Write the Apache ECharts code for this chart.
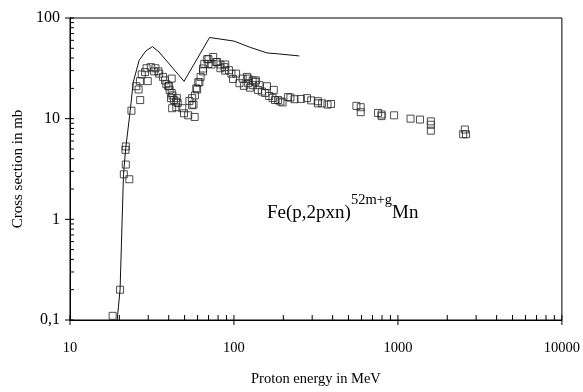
<!DOCTYPE html>
<html>
<head>
<meta charset="utf-8">
<script src="https://cdn.jsdelivr.net/npm/echarts@6/dist/echarts.min.js"></script>
<style>
html,body{margin:0;padding:0;background:#fff;}
#chart{width:583px;height:392px;}
</style>
</head>
<body>
<div id="chart"></div>
<script>
// Theory curve (solid line)
var theoryE  = [19.4, 20.2, 21.2, 21.9, 23.3, 24.3, 26.4, 29, 31.8, 34.9, 49.6, 71, 100, 126, 159, 187, 250];
var theoryXS = [0.1, 0.2, 2.8, 5.2, 12, 23, 38, 47, 52, 46, 23.5, 64, 59, 51, 45, 44, 42];

// Experimental points (open squares)
var expE = [18.2, 20.2, 21.3, 21.9, 23.0, 21.8, 21.9, 23.7,
  25.4, 26.2, 26.8, 26.7, 27.4, 28.7, 29.3, 29.8, 31.1, 32.6, 33.2, 34.6, 35.0, 36.9, 38, 38.7, 39.8, 40.1, 40.5, 41.7, 41.7, 41.3, 42.2, 43, 44.3, 44.8, 45.4, 42, 44.5,
  48.4, 49.6, 52.6, 57.6, 53.5, 55.5, 56.7, 55.6, 57.8, 58.9, 59.6, 60.6, 61.6, 62.6, 64.8, 64.8, 65.9, 68.7, 69.9, 69.9, 73, 74.7, 78, 79, 82.7, 82.7, 87.5, 88.5, 88.5, 93.2, 96.5, 98.6,
  103, 108, 113, 115, 120, 122, 122, 125, 130, 130, 135, 136, 140, 143, 148, 155, 159, 164, 172, 175, 178, 186, 192, 198,
  214, 221, 234, 256, 279, 296, 325, 325, 345, 372, 391,
  558, 593, 593, 757, 795, 795, 948, 1194, 1363, 1588, 1588, 1588, 2560, 2500, 2600];
var expXS = [0.11, 0.2, 2.8, 3.5, 2.5, 4.9, 5.3, 12,
  21, 19.5, 15.3, 23.6, 27.5, 29, 31.7, 23.6, 32.5, 29.5, 31.7, 29.5, 28, 26, 24, 22, 21, 21.2, 19.3, 25, 18, 16, 17, 15.3, 14.8, 16, 14.3, 12.7, 13,
  12.7, 11.3, 10.8, 10.4, 15, 13.6, 13.8, 16, 17, 20, 19.5, 23, 23, 26, 29.5, 31.5, 35, 39, 39, 35, 34.5, 41, 36.5, 36.5, 34.5, 31.7, 32.5, 34.5, 30, 30.3, 28, 24.8,
  28, 22.5, 25, 21.2, 26, 25, 22.5, 20.3, 21.5, 24, 23.2, 24, 19.3, 21.5, 18.6, 18, 21, 16.8, 16, 19.3, 15.3, 15.3, 14.8, 14.5,
  16.4, 16.2, 15.6, 15.7, 16, 15.2, 14.9, 14.2, 14.2, 13.8, 14,
  13.4, 13, 11.6, 11.4, 11, 10.6, 10.8, 10, 9.8, 9.4, 8.7, 7.6, 7.8, 7.0, 7.0];

// Axis ticks / labels
var xTickValues = [10, 100, 1000, 10000];
var xTickLabels = ['10', '100', '1000', '10000'];
var yTickValues = [0.1, 1, 10, 100];
var yTickLabels = ['0,1', '1', '10', '100'];

var FONT = '"Liberation Serif", "Times New Roman", serif';

function zip(a, b) { return a.map(function (v, i) { return [v, b[i]]; }); }
function labelFor(values, labels) {
  return function (v) {
    for (var i = 0; i < values.length; i++) {
      if (Math.abs(Math.log10(v) - Math.log10(values[i])) < 1e-6) return labels[i];
    }
    return '';
  };
}
function isMajor(v) { var l = Math.log10(v); return Math.abs(l - Math.round(l)) < 1e-6; }

// tick positions (majors and 2..9 minors per decade)
function decadeTicks(lo, hi) {
  var out = [];
  for (var d = lo; d < hi; d *= 10) {
    for (var m = 1; m < 10; m++) out.push(d * m);
  }
  out.push(hi);
  return out;
}
var xTicks = decadeTicks(10, 10000);
var yTicks = decadeTicks(0.1, 100);

var chart = echarts.init(document.getElementById('chart'), null, {renderer: 'canvas'});

chart.setOption({
  animation: false,
  backgroundColor: '#fff',
  textStyle: {fontFamily: FONT},
  grid: {left: 70, right: 19, top: 18, bottom: 68, show: true, borderColor: '#000', borderWidth: 1, backgroundColor: 'transparent'},
  xAxis: {
    type: 'log', logBase: 10, min: 10, max: 10000,
    name: 'Proton energy in MeV', nameLocation: 'middle', nameGap: 52,
    nameTextStyle: {fontFamily: FONT, fontSize: 14.5, color: '#000'},
    axisLine: {lineStyle: {color: '#000', width: 1}},
    axisTick: {show: false},
    splitLine: {show: false},
    axisLabel: {fontFamily: FONT, fontSize: 14.5, color: '#000', margin: 21, formatter: labelFor(xTickValues, xTickLabels)}
  },
  yAxis: {
    type: 'log', logBase: 10, min: 0.1, max: 100,
    name: 'Cross section in mb', nameLocation: 'middle', nameGap: 42,
    nameTextStyle: {fontFamily: FONT, fontSize: 15, color: '#000'},
    axisLine: {lineStyle: {color: '#000', width: 1}},
    axisTick: {show: false},
    splitLine: {show: false},
    axisLabel: {fontFamily: FONT, fontSize: 16, color: '#000', margin: 10, formatter: labelFor(yTickValues, yTickLabels)}
  },
  graphic: [{
    type: 'text', left: 267, top: 193,
    style: {
      text: '{a|Fe(p,2pxn)}{s|52m+g}{a|Mn}',
      rich: {
        a: {fontFamily: FONT, fontSize: 19, lineHeight: 30, verticalAlign: 'bottom', fill: '#000'},
        s: {fontFamily: FONT, fontSize: 14.5, lineHeight: 14, verticalAlign: 'top', fill: '#000'}
      }
    }
  }],
  series: [
    {
      type: 'line', data: zip(theoryE, theoryXS), showSymbol: false, symbol: 'none',
      lineStyle: {color: '#111', width: 1}, z: 3, silent: true
    },
    {
      type: 'scatter', data: zip(expE, expXS), symbol: 'rect', symbolSize: 7,
      itemStyle: {color: 'rgba(0,0,0,0)', borderColor: '#222', borderWidth: 1}, z: 4, silent: true
    },
    {
      type: 'custom', clip: false, silent: true, z: 5,
      data: xTicks.map(function (v) { return [v, 0.1]; }),
      renderItem: function (params, api) {
        var v = api.value(0);
        var p = api.coord([v, 0.1]);
        var major = isMajor(v);
        return {type: 'line', shape: {x1: p[0], y1: major ? p[1] + 5 : p[1], x2: p[0], y2: p[1] - 5},
          style: {stroke: '#000', lineWidth: 1}};
      }
    },
    {
      type: 'custom', clip: false, silent: true, z: 5,
      data: yTicks.map(function (v) { return [10, v]; }),
      renderItem: function (params, api) {
        var v = api.value(1);
        var p = api.coord([10, v]);
        var major = isMajor(v);
        return {type: 'line', shape: {x1: major ? p[0] - 5 : p[0], y1: p[1], x2: p[0] + 4, y2: p[1]},
          style: {stroke: '#000', lineWidth: 1}};
      }
    }
  ]
});
</script>
</body>
</html>
